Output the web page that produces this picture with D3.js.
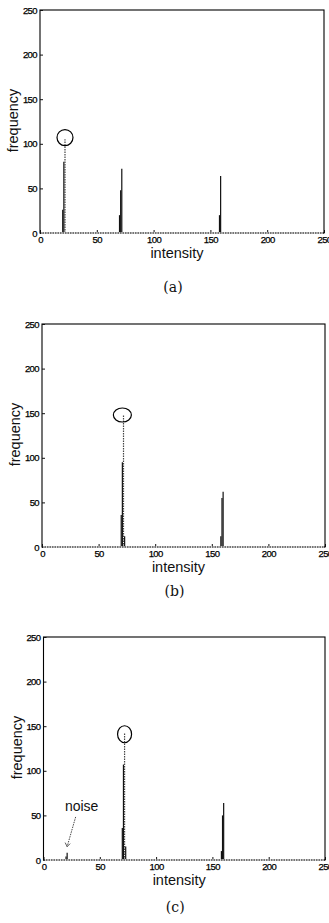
<!DOCTYPE html>
<html>
<head>
<meta charset="utf-8">
<script src="https://cdn.jsdelivr.net/npm/d3@7"></script>
<style>
  html, body { margin: 0; padding: 0; background: #fff; }
  svg { display: block; }
</style>
</head>
<body>
<svg id="chart" width="329" height="923"></svg>
<script>
// ---- data ----
const intensityTicks = [0, 50, 100, 150, 200, 250];
const frequencyTicks = [0, 50, 100, 150, 200, 250];
const panelNames = ['(a)', '(b)', '(c)'];

// [intensity, frequency]
const histA = [[20, 26], [21, 80], [22, 105], [70, 20], [71, 48], [72, 72], [158, 20], [159, 64]];
const histB = [[70, 36], [71, 95], [72, 148], [73, 12], [158, 12], [159, 55], [160, 62]];
const histC = [[20, 4], [21, 8], [70, 36], [71, 107], [72, 143], [73, 15], [158, 10], [159, 50], [160, 64]];

// circled peaks [intensity, frequency]
const peakA = [22, 107];
const peakB = [71, 148];
const peakC = [72, 141];

// "noise" annotation in (c): text anchor and arrow tip [intensity, frequency]
const noiseText = [25, 55];
const noiseTip = [21, 15];

// ---- layout ----
const panels = [
    { data: histA, peak: peakA, top: 10, bottom: 233, left: 40, right: 324, r: [8, 8], capGap: 59 },
    { data: histB, peak: peakB, top: 324, bottom: 547, left: 42, right: 325, r: [9, 7], capGap: 49 },
    { data: histC, peak: peakC, top: 637, bottom: 860, left: 43.5, right: 325, r: [7, 8.5], capGap: 52, noise: true }
];

const sans = '"Liberation Sans", Arial, Helvetica, sans-serif';
const svg = d3.select('#chart');

panels.forEach((p, i) => {
    const x = d3.scaleLinear().domain([0, 250]).range([p.left, p.right]);
    const y = d3.scaleLinear().domain([0, 250]).range([p.bottom, p.top]);
    const g = svg.append('g');

    // frame
    g.append('rect')
        .attr('x', p.left).attr('y', p.top)
        .attr('width', p.right - p.left).attr('height', p.bottom - p.top)
        .attr('fill', 'none').attr('stroke', '#000').attr('stroke-width', 1.1);

    // axes (ticks pointing inward, like matlab)
    const xAxis = d3.axisBottom(x).tickValues(intensityTicks).tickSizeInner(-3).tickSizeOuter(0).tickPadding(4);
    const yAxis = d3.axisLeft(y).tickValues(frequencyTicks).tickSizeInner(-3).tickSizeOuter(0).tickPadding(3);

    const gx = g.append('g').attr('transform', `translate(0,${p.bottom})`).call(xAxis);
    const gy = g.append('g').attr('transform', `translate(${p.left},0)`).call(yAxis);
    [gx, gy].forEach(a => {
        a.select('.domain').remove();
        a.selectAll('.tick line').attr('stroke', '#111');
        a.selectAll('.tick text')
            .attr('fill', '#000')
            .attr('stroke', '#000').attr('stroke-width', 0.25)
            .style('font-family', '"Liberation Sans Narrow", "Liberation Sans", Arial, sans-serif')
            .style('font-size', '9.5px')
            .style('letter-spacing', '-0.6px');
    });
    gx.selectAll('.tick text').attr('dy', '0.6em');

    // histogram spikes
    const maxF = d3.max(p.data, d => d[1]);
    g.selectAll('.spike')
        .data(p.data)
        .enter().append('line')
        .attr('class', 'spike')
        .attr('x1', d => x(d[0])).attr('x2', d => x(d[0]))
        .attr('y1', y(0)).attr('y2', d => y(d[1]))
        .attr('stroke', d => d[1] === maxF ? '#444' : '#111')
        .attr('stroke-width', 1.2)
        .attr('stroke-dasharray', d => d[1] === maxF ? '1.5,1' : null);

    // bottom axis line drawn dotted over the frame
    g.append('line')
        .attr('x1', p.left + 1).attr('x2', p.right - 1)
        .attr('y1', p.bottom).attr('y2', p.bottom)
        .attr('stroke', '#fff').attr('stroke-width', 1.3);
    g.append('line')
        .attr('x1', p.left).attr('x2', p.right)
        .attr('y1', p.bottom).attr('y2', p.bottom)
        .attr('stroke', '#111').attr('stroke-width', 1.2)
        .attr('stroke-dasharray', '1.5,1');

    // circle around peak
    g.append('ellipse')
        .attr('cx', x(p.peak[0])).attr('cy', y(p.peak[1]))
        .attr('rx', p.r[0]).attr('ry', p.r[1])
        .attr('fill', 'none').attr('stroke', '#000').attr('stroke-width', 1.2);

    // axis titles
    g.append('text')
        .attr('x', (p.left + p.right) / 2 - 5)
        .attr('y', p.bottom + 25)
        .attr('text-anchor', 'middle')
        .style('font-family', sans)
        .style('font-size', '14.5px')
        .attr('fill', '#111')
        .text('intensity');

    g.append('text')
        .attr('transform', `translate(${p.left - 22},${(p.top + p.bottom) / 2 - 1}) rotate(-90)`)
        .attr('text-anchor', 'middle')
        .style('font-family', sans)
        .style('font-size', '14.5px')
        .attr('fill', '#111')
        .text('frequency');

    // panel caption
    g.append('text')
        .attr('x', (p.left + p.right) / 2 - 9)
        .attr('y', p.bottom + p.capGap)
        .attr('text-anchor', 'middle')
        .style('font-family', '"DejaVu Serif", "Liberation Serif", serif')
        .style('font-size', '14px')
        .attr('fill', '#111')
        .text(panelNames[i]);

    // noise annotation
    if (p.noise) {
        g.append('text')
            .attr('x', x(noiseText[0]) + 10)
            .attr('y', y(noiseText[1]))
            .attr('text-anchor', 'middle')
            .style('font-family', sans)
            .style('font-size', '14px')
            .attr('fill', '#111')
            .text('noise');
        g.append('line')
            .attr('x1', x(noiseText[0]) + 4).attr('y1', y(noiseText[1]) + 6)
            .attr('x2', x(noiseTip[0])).attr('y2', y(noiseTip[1]))
            .attr('stroke', '#333').attr('stroke-width', 0.9)
            .attr('stroke-dasharray', '1.5,1');
        g.append('path')
            .attr('d', `M${x(noiseTip[0]) - 2},${y(noiseTip[1]) - 4} L${x(noiseTip[0])},${y(noiseTip[1])} L${x(noiseTip[0]) + 3},${y(noiseTip[1]) - 3}`)
            .attr('fill', 'none').attr('stroke', '#333').attr('stroke-width', 0.8);
    }
});
</script>
</body>
</html>
